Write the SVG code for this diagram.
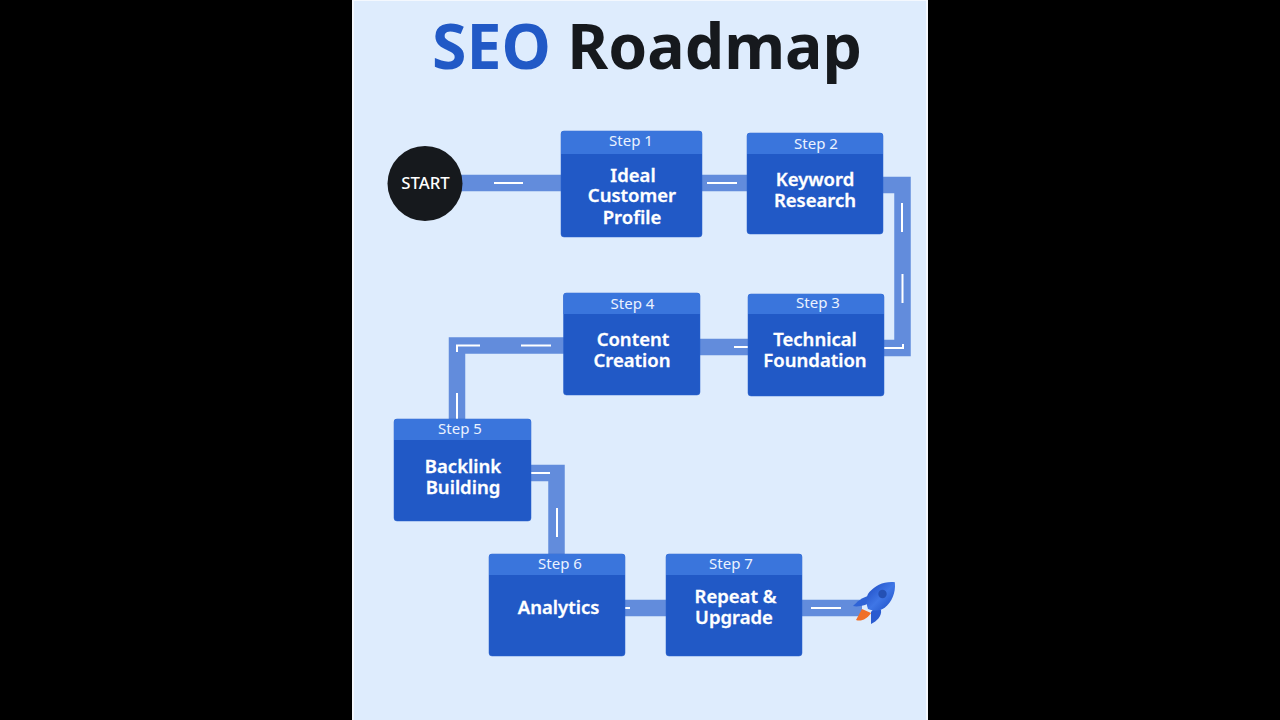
<svg xmlns="http://www.w3.org/2000/svg" width="1280" height="720" viewBox="0 0 1280 720">
<defs><linearGradient id="rb" x1="0" y1="0" x2="1" y2="0"><stop offset="0" stop-color="#2a5bd0"/><stop offset=".55" stop-color="#3f76e6"/><stop offset="1" stop-color="#2c60d4"/></linearGradient></defs>
<style>
text{font-family:"Noto Sans","Open Sans","Liberation Sans",sans-serif;text-anchor:middle}
.box{fill:#2159c6;stroke:#2a62cc;stroke-width:.5}
.hdr{fill:#3a75dc}
.st{font-size:15px;fill:#eaf2ff;font-weight:400}
.nm{font-size:18.500px;fill:#fff;font-weight:600;stroke:#fff;stroke-width:.3}
.road{fill:none;stroke:#628cdc;stroke-width:16.500;stroke-linejoin:miter}
.dash{fill:none;stroke:#fff;stroke-width:2}
</style>
<rect width="1280" height="720" fill="#000"/>
<rect x="352" y="0" width="576" height="720" fill="#f4f8fe"/>
<rect x="354" y="1" width="572" height="719" fill="#deecfd"/>
<text id="title" x="647" y="69" font-size="62.500" font-weight="700" fill="#16191d"><tspan fill="#2159c6">SEO</tspan> Roadmap</text>
<g id="connectors">
<path class="road" d="M460 183H562"/>
<path class="road" d="M702 183H748"/>
<path class="road" d="M883 185H902.500V348H884"/>
<path class="road" d="M700 347H748"/>
<path class="road" d="M564 345.500H457V420"/>
<path class="road" d="M531 473H556.500V555"/>
<path class="road" d="M625 608H666"/>
<path class="road" d="M802 608H862"/>
<path class="dash" d="M494 183H523M707 183H737M902 203V232M902.500 274V303M884 348H903V344M734 347H748M521 345.500H551M480 345.500H457V352M457 393V419M531 473H550M557 508V537M625 608H630M811 608H841"/>
</g>
<g id="start"><circle cx="425" cy="183.500" r="37.500" fill="#16191d"/><text x="425.500" y="189" font-size="16.800" font-weight="500" fill="#fff">START</text></g>
<g id="step1"><rect class="box" x="561" y="131" width="141" height="106" rx="3"/><path class="hdr" d="M561 154V134a3 3 0 0 1 3-3H699a3 3 0 0 1 3 3V154Z"/><text class="st" x="631" y="146">Step 1</text><text class="nm" x="633" y="181.500">Ideal</text><text class="nm" x="632" y="202">Customer</text><text class="nm" x="632" y="223.500">Profile</text></g>
<g id="step2"><rect class="box" x="747" y="133" width="136" height="101" rx="3"/><path class="hdr" d="M747 154V136a3 3 0 0 1 3-3H880a3 3 0 0 1 3 3V154Z"/><text class="st" x="816" y="149">Step 2</text><text class="nm" x="815" y="186">Keyword</text><text class="nm" x="815" y="207">Research</text></g>
<g id="step3"><rect class="box" x="748" y="294" width="136" height="102" rx="3"/><path class="hdr" d="M748 314V297a3 3 0 0 1 3-3H881a3 3 0 0 1 3 3V314Z"/><text class="st" x="818" y="308">Step 3</text><text class="nm" x="815" y="345.500">Technical</text><text class="nm" x="815" y="366.500">Foundation</text></g>
<g id="step4"><rect class="box" x="563.500" y="293" width="136.500" height="102" rx="3"/><path class="hdr" d="M563.500 314V296a3 3 0 0 1 3-3H697a3 3 0 0 1 3 3V314Z"/><text class="st" x="632.500" y="309">Step 4</text><text class="nm" x="633" y="345.500">Content</text><text class="nm" x="632" y="366.500">Creation</text></g>
<g id="step5"><rect class="box" x="394" y="419" width="137" height="102" rx="3"/><path class="hdr" d="M394 440V422a3 3 0 0 1 3-3H528a3 3 0 0 1 3 3V440Z"/><text class="st" x="460" y="434">Step 5</text><text class="nm" x="463" y="472.500">Backlink</text><text class="nm" x="463" y="493.500">Building</text></g>
<g id="step6"><rect class="box" x="489" y="554" width="136" height="102" rx="3"/><path class="hdr" d="M489 575V557a3 3 0 0 1 3-3H622a3 3 0 0 1 3 3V575Z"/><text class="st" x="560" y="569">Step 6</text><text class="nm" x="558.500" y="613.500">Analytics</text></g>
<g id="step7"><rect class="box" x="666" y="554" width="136" height="102" rx="3"/><path class="hdr" d="M666 575V557a3 3 0 0 1 3-3H799a3 3 0 0 1 3 3V575Z"/><text class="st" x="731" y="569">Step 7</text><text class="nm" x="735.500" y="603">Repeat &amp;</text><text class="nm" x="734" y="623.500">Upgrade</text></g>
<g id="rocket">
<path d="M862 609L856 620C861 622 867 619 871 613Z" fill="#f0702a"/>
<path d="M869 596C862 597 857 602 853 606C857 607 861 606 865 605L873 601Z" fill="#2f63d6"/>
<path d="M881 610C882 616 877 621 871 624L871 612L876 606Z" fill="#2a5bd0"/>
<g transform="translate(880 597) rotate(45)"><path d="M0 -21C8.500 -14 11.500 -5 11 4C10.500 10 6 14 0 17C-6 14 -10.500 10 -11 4C-11.500 -5 -8.500 -14 0 -21Z" fill="url(#rb)"/></g>
<circle cx="882.500" cy="594" r="4.200" fill="#2450b4"/>
</g>
</svg>
